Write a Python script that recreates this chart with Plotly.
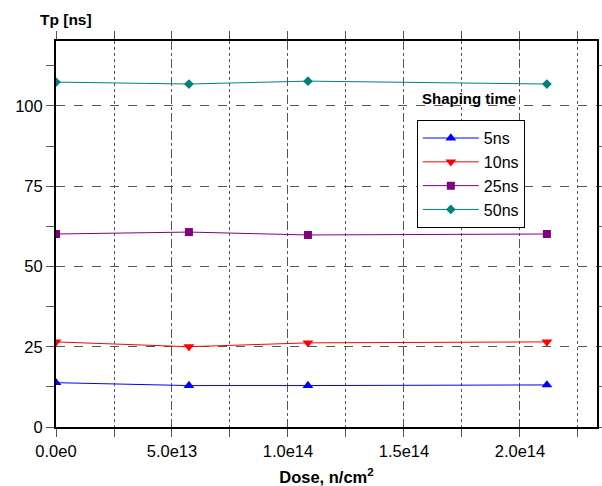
import plotly.graph_objects as go

# Dose (n/cm^2) at each measurement
dose = [0.0, 5.73e13, 1.086e14, 2.116e14]

# Peaking time Tp (ns) for each shaping time
tp_5ns = [13.8, 12.9, 12.9, 13.1]
tp_10ns = [26.5, 25.0, 26.2, 26.5]
tp_25ns = [60.1, 60.7, 59.8, 60.1]
tp_50ns = [107.4, 106.8, 107.7, 106.8]

series_names = ["5ns", "10ns", "25ns", "50ns"]
x_tickvals = [0, 5e13, 1e14, 1.5e14, 2e14]
x_ticktext = ["0.0e0", "5.0e13", "1.0e14", "1.5e14", "2.0e14"]
y_tickvals = [0, 25, 50, 75, 100]

styles = [
    ("#0000FF", "triangle-up", 9.5),
    ("#FF0000", "triangle-down", 9.5),
    ("#800080", "square", 8),
    ("#008080", "diamond", 7.5),
]

fig = go.Figure()
for name, ys, (color, symbol, size) in zip(series_names, [tp_5ns, tp_10ns, tp_25ns, tp_50ns], styles):
    fig.add_trace(go.Scatter(
        x=dose, y=ys, name=name, mode="lines+markers",
        line=dict(color=color, width=1),
        marker=dict(color=color, symbol=symbol, size=size),
    ))

font_family = "Liberation Sans, Arial, sans-serif"

fig.update_layout(
    width=602, height=486,
    margin=dict(l=56, r=5, t=41, b=59, autoexpand=False),
    paper_bgcolor="white", plot_bgcolor="white",
    font=dict(family=font_family, size=16, color="black"),
    showlegend=True,
    legend=dict(
        x=0.667, y=0.795, xanchor="left", yanchor="top",
        bordercolor="black", borderwidth=1, bgcolor="white",
        font=dict(size=16), itemwidth=56, tracegroupgap=0,
    ),
    xaxis=dict(
        range=[0, 2.332e14], tickvals=x_tickvals, ticktext=x_ticktext,
        automargin=False,
        showline=True, linecolor="black", linewidth=2, mirror="allticks",
        ticks="outside", ticklen=8, tickcolor="#555", tickwidth=1,
        showgrid=True, gridcolor="#555", griddash="dash", gridwidth=1,
        zeroline=False,
        minor=dict(dtick=2.5e13, tick0=0, ticks="outside", ticklen=8, tickcolor="#555",
                   showgrid=True, gridcolor="#555", griddash="dot", gridwidth=1),
        tickfont=dict(size=16.5),
        title=dict(text="<b>Dose, n/cm<sup>2</sup></b>", font=dict(size=16.5), standoff=16),
    ),
    yaxis=dict(
        range=[0, 120.2], tickvals=y_tickvals,
        automargin=False,
        showline=True, linecolor="black", linewidth=2, mirror="allticks",
        ticks="outside", ticklen=8, tickcolor="#555", tickwidth=1,
        showgrid=True, gridcolor="#555", griddash="dash", gridwidth=1,
        zeroline=False,
        minor=dict(dtick=12.5, tick0=0, ticks="outside", ticklen=8, tickcolor="#555",
                   showgrid=False),
        tickfont=dict(size=16.5),
    ),
    annotations=[
        dict(text="<b>Tp [ns]</b>", xref="paper", yref="paper",
             x=-0.034, y=1.055, xanchor="left", yanchor="middle",
             showarrow=False, font=dict(size=15.5)),
        dict(text="<b>Shaping time</b>", xref="paper", yref="paper",
             x=0.673, y=0.85, xanchor="left", yanchor="middle",
             showarrow=False, font=dict(size=15)),
    ],
)

fig.write_html("out.html")
